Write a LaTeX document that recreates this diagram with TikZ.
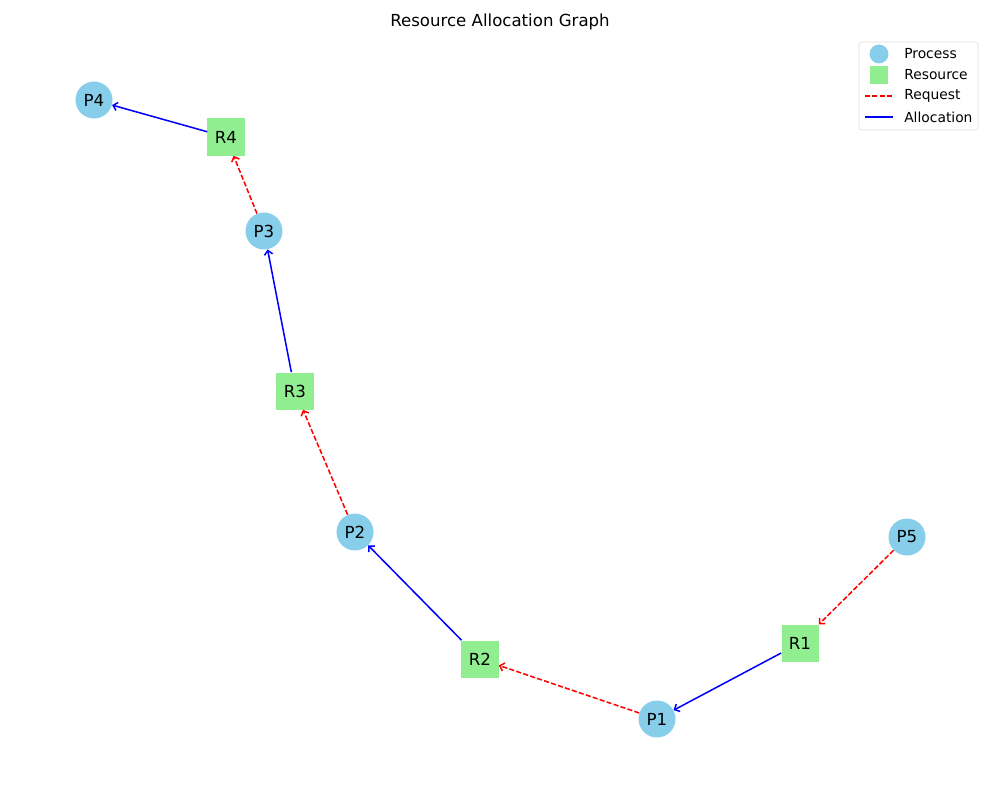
\documentclass[tikz,border=0pt]{standalone}
\usepackage{fontspec}
\setmainfont{DejaVu Sans}
\usetikzlibrary{arrows.meta}
\definecolor{skyblue}{HTML}{87CEEB}
\definecolor{lightgreen}{HTML}{90EE90}
\tikzset{
  proc/.style={circle,fill=skyblue,minimum size=9.4mm,inner sep=0pt,font=\fontsize{12}{14}\selectfont},
  res/.style={rectangle,fill=lightgreen,minimum size=9.4mm,inner sep=0pt,font=\fontsize{12}{14}\selectfont},
  request/.style={red,line width=1.1pt,dash pattern=on 3.7pt off 1.6pt,-{Straight Barb[length=3pt,width=6pt]}},
  alloc/.style={blue,line width=1.1pt,-{Straight Barb[length=3pt,width=6pt]}},
  legtext/.style={anchor=west,inner sep=0pt,font=\fontsize{10}{12}\selectfont}
}
\begin{document}
\begin{tikzpicture}[x=0.254mm,y=-0.254mm]
\useasboundingbox (0,0) rectangle (1000,800);

\node[font=\fontsize{12}{14}\selectfont] (title) at (500,22) {Resource Allocation Graph};

\node[proc] (P1) at (657,719) {P1};
\node[proc] (P2) at (355,532) {P2};
\node[proc] (P3) at (264,231) {P3};
\node[proc] (P4) at (94,100) {P4};
\node[proc] (P5) at (907,537) {P5};

\node[res] (R1) at (800,643) {R1};
\node[res] (R2) at (480,659) {R2};
\node[res] (R3) at (295,391) {R3};
\node[res] (R4) at (226,137) {R4};

\draw[request] (P5) -- (R1);
\draw[alloc] (R1) -- (P1);
\draw[request] (P1) -- (R2);
\draw[alloc] (R2) -- (P2);
\draw[request] (P2) -- (R3);
\draw[alloc] (R3) -- (P3);
\draw[request] (P3) -- (R4);
\draw[alloc] (R4) -- (P4);

\draw[gray!25,fill=white,rounded corners=2pt] (859,42) rectangle (978,130);
\node[circle,fill=skyblue,minimum size=4.8mm,inner sep=0pt] (lp) at (879,54) {};
\node[rectangle,fill=lightgreen,minimum size=4.4mm,inner sep=0pt] (lr) at (879,75) {};
\coordinate (lq1) at (865,96);
\coordinate (lq2) at (893,96);
\coordinate (la1) at (865,117);
\coordinate (la2) at (893,117);
\draw[red,line width=1.1pt,dash pattern=on 3.7pt off 1.6pt] (lq1) -- (lq2);
\draw[blue,line width=1.1pt] (la1) -- (la2);
\node[legtext] at (904,54) {Process};
\node[legtext] at (904,75) {Resource};
\node[legtext] at (904,96) {Request};
\node[legtext] at (904,117) {Allocation};
\end{tikzpicture}
\end{document}
